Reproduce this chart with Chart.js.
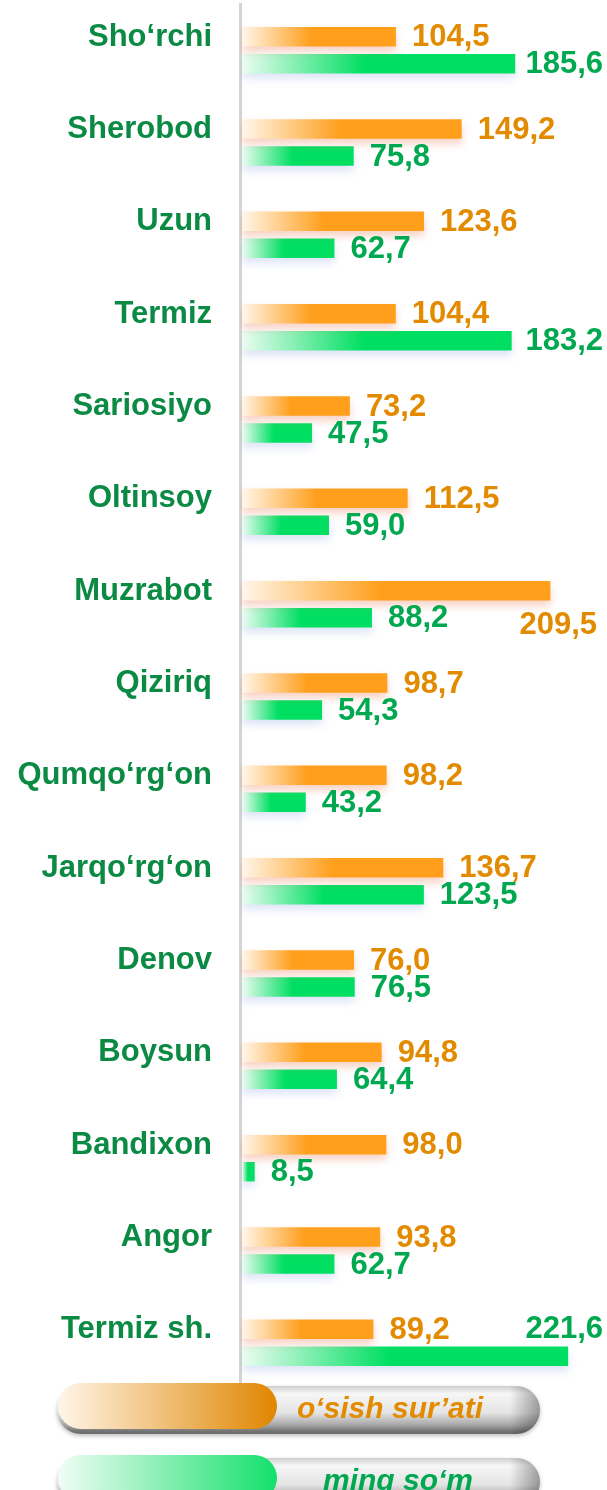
<!DOCTYPE html>
<html>
<head>
<meta charset="utf-8">
<script src="https://cdn.jsdelivr.net/npm/chart.js@4.4.1/dist/chart.umd.min.js"></script>
<style>
  html, body { margin: 0; padding: 0; background: #fff; }
  #wrap { width: 607px; height: 1490px; position: relative; }
</style>
</head>
<body>
<div id="wrap"><canvas id="grafik"></canvas></div>
<script>
// Tumanlar
const tumanlar = ['Sho‘rchi', 'Sherobod', 'Uzun', 'Termiz', 'Sariosiyo', 'Oltinsoy', 'Muzrabot',
    'Qiziriq', 'Qumqo‘rg‘on', 'Jarqo‘rg‘on', 'Denov', 'Boysun', 'Bandixon', 'Angor', 'Termiz sh.'];

// o‘sish sur’ati (foiz)
const osishSurati = [104.5, 149.2, 123.6, 104.4, 73.2, 112.5, 209.5, 98.7, 98.2, 136.7, 76.0, 94.8, 98.0, 93.8, 89.2];

// ming so‘m
const mingSom = [185.6, 75.8, 62.7, 183.2, 47.5, 59.0, 88.2, 54.3, 43.2, 123.5, 76.5, 64.4, 8.5, 62.7, 221.6];

const seriyaNomlari = ['o‘sish sur’ati', 'ming so‘m'];

const SHRIFT = '"Liberation Sans", Arial, sans-serif';
const rang = {
    apelsin: '#ff9f1c', apelsinOch: '#fff6ea', apelsinMatn: '#e38b00',
    yashil: '#00df62', yashilOch: '#eafcf1', yashilMatn: '#00a84f',
    nom: '#0b8a44'
};

function barGradient(och, tuq) {
    return function (context) {
        const chart = context.chart;
        if (!chart.chartArea || context.type !== 'data') return tuq;
        const x = chart.scales.x;
        const x0 = x.getPixelForValue(0);
        const x1 = x.getPixelForValue(context.raw);
        const g = chart.ctx.createLinearGradient(x0, 0, Math.max(x1, x0 + 1), 0);
        g.addColorStop(0, och);
        g.addColorStop(0.45, tuq);
        g.addColorStop(1, tuq);
        return g;
    };
}

const fmt = v => v.toFixed(1).replace('.', ',');

// bar soyalari
const soyaPlugin = {
    id: 'soya',
    beforeDatasetDraw(chart, args) {
        const ctx = chart.ctx;
        ctx.save();
        ctx.shadowColor = args.index === 0 ? 'rgba(235,120,80,0.35)' : 'rgba(140,165,225,0.30)';
        ctx.shadowBlur = 9;
        ctx.shadowOffsetY = 5;
    },
    afterDatasetDraw(chart) {
        chart.ctx.restore();
    }
};

// qiymat yozuvlari
const qiymatPlugin = {
    id: 'qiymat',
    afterDatasetsDraw(chart) {
        const ctx = chart.ctx;
        const W = chart.width - 4;
        ctx.save();
        ctx.font = 'bold 31px ' + SHRIFT;
        ctx.textBaseline = 'middle';
        ctx.textAlign = 'left';
        chart.data.datasets.forEach((ds, di) => {
            const meta = chart.getDatasetMeta(di);
            const boshqa = chart.getDatasetMeta(1 - di);
            ctx.fillStyle = di === 0 ? rang.apelsinMatn : rang.yashilMatn;
            meta.data.forEach((bar, i) => {
                const matn = fmt(ds.data[i]);
                const w = ctx.measureText(matn).width;
                let x = bar.x + 16;
                let y = bar.y + 1;
                if (x + w > W) {
                    x = W - w;
                    if (x < bar.x + 3) {
                        y = boshqa.data[i].y + (di === 0 ? 8 : 0);
                        x -= di === 0 ? 6 : 0;
                    }
                }
                ctx.fillText(matn, x, y);
            });
        });
        ctx.restore();
    }
};

function pill(ctx, x, y, w, h) {
    const r = h / 2;
    ctx.beginPath();
    ctx.moveTo(x + r, y);
    ctx.lineTo(x + w - r, y);
    ctx.arc(x + w - r, y + r, r, -Math.PI / 2, Math.PI / 2);
    ctx.lineTo(x + r, y + h);
    ctx.arc(x + r, y + r, r, Math.PI / 2, Math.PI * 1.5);
    ctx.closePath();
}

// pastdagi legenda
const legendaPlugin = {
    id: 'legenda',
    afterDraw(chart) {
        const ctx = chart.ctx;
        const ranglar = [
            [rang.apelsinOch, '#e08600', rang.apelsinMatn],
            ['#f2fdf6', '#14e06c', rang.yashilMatn]
        ];
        chart.data.datasets.forEach((ds, i) => {
            const x = 57, w = 483, h = 48;
            const y = 1384 + i * 72;
            ctx.save();
            // kulrang quvur
            ctx.shadowColor = 'rgba(0,0,0,0.25)';
            ctx.shadowBlur = 4;
            ctx.shadowOffsetY = 2;
            const gv = ctx.createLinearGradient(0, y, 0, y + h);
            gv.addColorStop(0, '#c4c4c4');
            gv.addColorStop(0.2, '#f6f6f6');
            gv.addColorStop(0.6, '#e4e4e4');
            gv.addColorStop(0.85, '#a8a8a8');
            gv.addColorStop(1, '#6e6e6e');
            pill(ctx, x, y + 2, w, h);
            ctx.fillStyle = gv;
            ctx.fill();
            ctx.shadowColor = 'transparent';
            // o'ng uchi qorongiroq
            const gr = ctx.createLinearGradient(x + w - 30, 0, x + w, 0);
            gr.addColorStop(0, 'rgba(0,0,0,0)');
            gr.addColorStop(1, 'rgba(0,0,0,0.35)');
            pill(ctx, x, y + 2, w, h);
            ctx.fillStyle = gr;
            ctx.fill();
            // rangli qism
            const gh = ctx.createLinearGradient(x, 0, x + 220, 0);
            gh.addColorStop(0, ranglar[i][0]);
            gh.addColorStop(1, ranglar[i][1]);
            pill(ctx, x + 1, y - 1, 219, h - 2);
            ctx.fillStyle = gh;
            ctx.fill();
            // matn
            ctx.font = 'italic bold 30px ' + SHRIFT;
            ctx.fillStyle = ranglar[i][2];
            ctx.textAlign = 'center';
            ctx.textBaseline = 'middle';
            ctx.fillText(ds.label, 390 + i * 8, y + h / 2 + 2);
            ctx.restore();
        });
    }
};

new Chart(document.getElementById('grafik'), {
    type: 'bar',
    data: {
        labels: tumanlar,
        datasets: [
            {
                label: seriyaNomlari[0],
                data: osishSurati,
                backgroundColor: barGradient(rang.apelsinOch, rang.apelsin),
                borderWidth: 0
            },
            {
                label: seriyaNomlari[1],
                data: mingSom,
                backgroundColor: barGradient(rang.yashilOch, rang.yashil),
                borderWidth: 0
            }
        ]
    },
    options: {
        indexAxis: 'y',
        responsive: true,
        maintainAspectRatio: false,
        animation: false,
        events: [],
        categoryPercentage: 0.585,
        barPercentage: 0.72,
        layout: { padding: { top: 4, bottom: 101, left: 0, right: 0 } },
        plugins: {
            legend: { display: false },
            tooltip: { enabled: false }
        },
        scales: {
            x: {
                display: false,
                min: -1.5,
                max: 248
            },
            y: {
                afterFit(scale) {
                    scale.width = 240;
                    scale.paddingTop = 0;
                    scale.paddingBottom = 0;
                },
                grid: { display: false, drawTicks: false },
                border: { display: true, color: '#d4d4d4', width: 3 },
                ticks: {
                    color: rang.nom,
                    font: { family: SHRIFT, size: 31, weight: 'bold' },
                    padding: 28,
                    labelOffset: -13
                }
            }
        }
    },
    plugins: [soyaPlugin, qiymatPlugin, legendaPlugin]
});
</script>
</body>
</html>
